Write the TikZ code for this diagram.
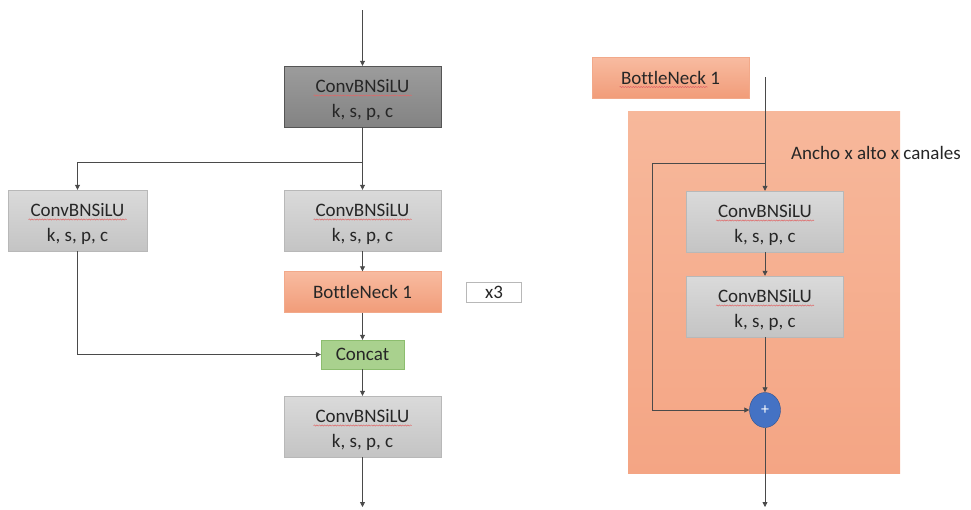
\documentclass[tikz,border=0pt]{standalone}
\usepackage{fontspec}
\setmainfont{Carlito}[Ligatures=NoCommon]
\usetikzlibrary{arrows.meta,calc,shapes.geometric,decorations.pathmorphing}

\definecolor{linegray}{HTML}{4A4A4A}
\definecolor{txtgray}{HTML}{262626}
\definecolor{darktop}{HTML}{9C9C9C}
\definecolor{darkbot}{HTML}{838383}
\definecolor{darkedge}{HTML}{555555}
\definecolor{lighttop}{HTML}{DADADA}
\definecolor{lightbot}{HTML}{C4C4C4}
\definecolor{lightedge}{HTML}{B8B8B8}
\definecolor{salmtop}{HTML}{F8BBA0}
\definecolor{salmbot}{HTML}{F19C79}
\definecolor{salmedge}{HTML}{F2A98A}
\definecolor{bigtop}{HTML}{F7B89B}
\definecolor{bigbot}{HTML}{F4A584}
\definecolor{concatfill}{HTML}{A9D18E}
\definecolor{concatedge}{HTML}{8CBD6E}
\definecolor{plusfill}{HTML}{4472C4}
\definecolor{plusedge}{HTML}{2F528F}
\definecolor{squigred}{HTML}{E06666}

% strut that lowers the two-line block labels a little inside their boxes
\newcommand\lowerlbl{\rule{0pt}{21pt}}

\begin{document}
\begin{tikzpicture}[x=1pt,y=-1pt,
  boxtext/.style={align=center,inner sep=0pt,text=txtgray,
    font=\fontsize{19}{25}\selectfont},
  convbox/.style={boxtext,minimum width=157pt,minimum height=61pt},
  darkbox/.style={convbox,draw=darkedge,top color=darktop,bottom color=darkbot},
  lightbox/.style={convbox,draw=lightedge,top color=lighttop,bottom color=lightbot},
  bnbox/.style={boxtext,draw=salmedge,top color=salmtop,bottom color=salmbot,
    minimum width=157pt,minimum height=41pt},
  link/.style={draw=linegray,line width=0.8pt},
  arr/.style={link,-{Triangle[length=5pt,width=5pt]}},
  squig/.style={draw=squigred,line width=0.5pt,decorate,
    decoration={snake,amplitude=0.6pt,segment length=2.6pt}}
]
\useasboundingbox (0,0) rectangle (971,509);

% ---------------- left: main block ----------------
\coordinate (inL) at (362.5,10);
\node[darkbox]  (dark) at (362.5,96.5)  {\lowerlbl ConvBNSiLU\\k, s, p, c};
\coordinate (split) at (362.5,162);
\node[lightbox,minimum width=139pt] (side) at (77.5,220.5) {\lowerlbl ConvBNSiLU\\k, s, p, c};
\node[lightbox] (mid)  at (362.5,220.5) {\lowerlbl ConvBNSiLU\\k, s, p, c};
\node[bnbox]    (bnL)  at (362.5,292)   {BottleNeck 1};
\node[boxtext,draw=lightedge,fill=white,minimum width=55pt,minimum height=20pt]
      (rep) at (494,292.5) {x3};
\node[boxtext,draw=concatedge,fill=concatfill,minimum width=83pt,minimum height=29pt]
      (concat) at (362.5,354.5) {Concat};
\node[lightbox] (out)  at (362.5,426.5) {\lowerlbl ConvBNSiLU\\k, s, p, c};
\coordinate (outL) at (362.5,507);

\draw[arr]  (inL) -- (dark.north);
\draw[link] (dark.south) -- (split);
\draw[arr]  (split) -- (mid.north);
\draw[arr]  (split) -| (side.north);
\draw[arr]  (mid.south) -- (bnL.north);
\draw[arr]  (bnL.south) -- (concat.north);
\draw[arr]  (side.south) |- (concat.west);
\draw[arr]  (concat.south) -- (out.north);
\draw[arr]  (out.south) -- (outL);

% ---------------- right: BottleNeck detail ----------------
\node[bnbox] (bnR) at (670.5,78) {BottleNeck 1};
\node[draw=none,top color=bigtop,bottom color=bigbot,inner sep=0pt,
      minimum width=272pt,minimum height=362pt] (frame) at (764,292) {};
\node[boxtext,anchor=west] (dims) at (791,153) {Ancho x alto x canales};
\node[lightbox] (r1) at (765,221.5) {\lowerlbl ConvBNSiLU\\k, s, p, c};
\node[lightbox] (r2) at (765,306.5) {\lowerlbl ConvBNSiLU\\k, s, p, c};
\node[ellipse,draw=plusedge,fill=plusfill,inner sep=0pt,minimum width=31pt,
      minimum height=35pt,text=white,font=\fontsize{16}{16}\selectfont] (plus) at (765,410) {+};
\coordinate (inR) at (765,77);
\coordinate (splitR) at (765,163);
\coordinate (skip) at (652,163);
\coordinate (outR) at (765,507);

\draw[link] (inR) -- (splitR);
\draw[arr]  (splitR) -- (r1.north);
\draw[arr]  (splitR) -- (skip) |- (plus.west);
\draw[arr]  (r1.south) -- (r2.north);
\draw[arr]  (r2.south) -- (plus.north);
\draw[arr]  (plus.south) -- (outR);

% spell-check underlines under the block names
\foreach \n in {dark,mid,out,side,r1,r2}
  \draw[squig] ($(\n.center)+(-49,-1)$) -- ($(\n.center)+(49,-1)$);
\draw[squig] ($(bnR.center)+(-51,9)$) -- ($(bnR.center)+(37,9)$);
\end{tikzpicture}
\end{document}
